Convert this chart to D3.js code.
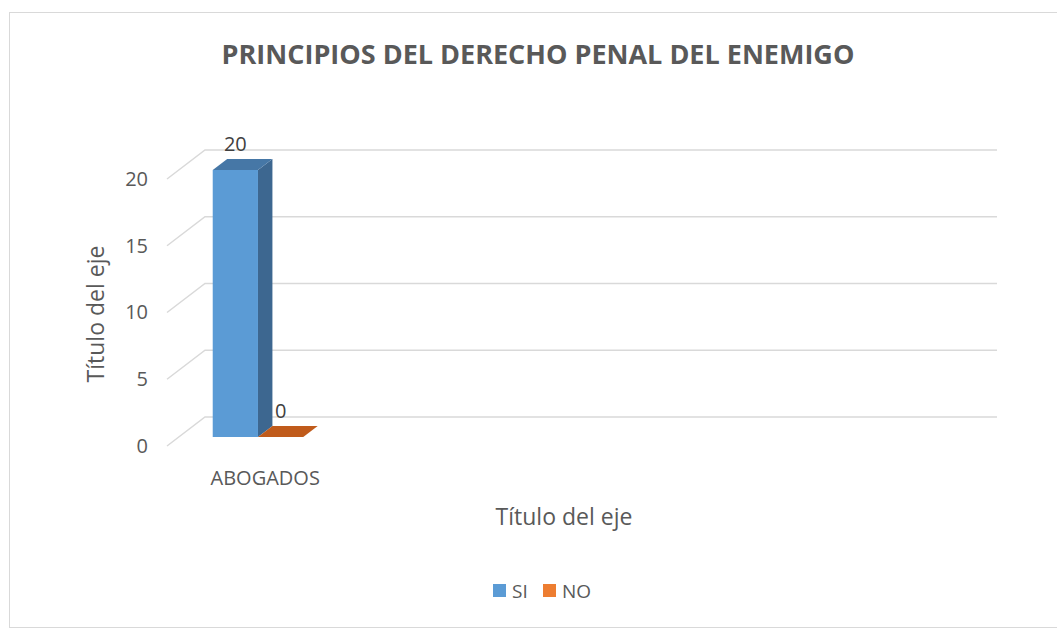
<!DOCTYPE html>
<html>
<head>
<meta charset="utf-8">
<script src="https://cdn.jsdelivr.net/npm/d3@7"></script>
<style>
  body { margin: 0; background: #fff; }
  text { font-family: "Open Sans", "Noto Sans", sans-serif; fill: #595959; }
</style>
</head>
<body>
<div id="wrapper"></div>
<script>
// ---------- DATA ----------
const categories = ["ABOGADOS", "", "", "", ""];
const seriesNames = ["SI", "NO"];
const siValues = [20];
const noValues = [0];
const yTicks = [0, 5, 10, 15, 20];
const chartTitle = "PRINCIPIOS DEL DERECHO PENAL DEL ENEMIGO";
const axisTitle = "Título del eje";

function drawChart() {
  const width = 1057;
  const height = 629;

  // 3d look: how far the back wall sits from the front plane
  const depthX = 38;
  const depthY = -29;
  const barDepth = [0.31, 0.69];

  const colors = {
    SI: { front: "#5b9bd5", side: "#3d6790", top: "#4677a6", legend: "#5b9bd5" },
    NO: { front: "#ed7d31", side: "#b55a1c", top: "#c05b1b", legend: "#ed7d31" },
  };

  const svg = d3.select("#wrapper").append("svg")
    .attr("width", width)
    .attr("height", height);

  // chart frame
  svg.append("rect")
    .attr("x", 9.5).attr("y", 12.5)
    .attr("width", 1100).attr("height", 615)
    .attr("fill", "none")
    .attr("stroke", "#d9d9d9");

  const xScale = d3.scaleBand()
    .domain(d3.range(categories.length))
    .range([167, 959]);

  const innerScale = d3.scaleBand()
    .domain(seriesNames)
    .range([0, xScale.bandwidth()])
    .paddingInner(0)
    .paddingOuter(0.75);

  const yScale = d3.scaleLinear()
    .domain([0, 20])
    .range([446, 179]);

  // project a front plane point into depth
  const P = (x, v, d) => [x + d * depthX, yScale(v) + d * depthY];

  // ---------- GRID ----------
  const grid = svg.append("g");
  yTicks.forEach((t) => {
    const a = P(167, t, 0), b = P(167, t, 1), c = P(959, t, 1);
    grid.append("polyline")
      .attr("points", [a, b, c].map((p) => p.join(",")).join(" "))
      .attr("fill", "none")
      .attr("stroke", "#d9d9d9")
      .attr("stroke-width", 1.5);
  });

  // y axis labels
  const yAxis = svg.append("g")
    .attr("transform", "translate(148,0)")
    .call(d3.axisLeft(yScale).tickValues(yTicks).tickSize(0).tickPadding(0));
  yAxis.select(".domain").remove();
  yAxis.selectAll("text")
    .attr("fill", "#595959")
    .style("font-size", "20px")
    .style("font-family", "'Open Sans', sans-serif");

  // ---------- BARS ----------
  const barData = [];
  siValues.forEach((v, i) => barData.push({ cat: i, series: "SI", value: v }));
  noValues.forEach((v, i) => barData.push({ cat: i, series: "NO", value: v }));

  const bars = svg.append("g");
  barData.forEach((d) => {
    const x0 = xScale(d.cat) + innerScale(d.series);
    const x1 = x0 + innerScale.bandwidth();
    const [f, b] = barDepth;
    const col = colors[d.series];
    const pts = (arr) => arr.map((p) => p.join(",")).join(" ");
    const g = bars.append("g");
    // side face
    g.append("polygon")
      .attr("points", pts([P(x1, 0, f), P(x1, 0, b), P(x1, d.value, b), P(x1, d.value, f)]))
      .attr("fill", col.side);
    // front face
    if (d.value > 0) {
      g.append("polygon")
        .attr("points", pts([P(x0, 0, f), P(x1, 0, f), P(x1, d.value, f), P(x0, d.value, f)]))
        .attr("fill", col.front);
    }
    // top face
    g.append("polygon")
      .attr("points", pts([P(x0, d.value, f), P(x1, d.value, f), P(x1, d.value, b), P(x0, d.value, b)]))
      .attr("fill", col.top);

    // data label
    const lp = P((x0 + x1) / 2, d.value, f);
    g.append("text")
      .attr("x", lp[0])
      .attr("y", lp[1] - 19)
      .attr("text-anchor", "middle")
      .style("fill", "#404040")
      .style("font-size", "20px")
      .text(d.value);
  });

  // category labels
  svg.append("g").selectAll("text")
    .data(categories)
    .join("text")
    .attr("x", (d, i) => P(xScale(i) + xScale.bandwidth() / 2, 0, 0.5)[0])
    .attr("y", 485)
    .attr("text-anchor", "middle")
    .style("font-size", "20px")
    .text((d) => d);

  // ---------- TITLES ----------
  svg.append("text")
    .attr("x", 538).attr("y", 64)
    .attr("text-anchor", "middle")
    .style("font-size", "27px")
    .style("font-weight", "bold")
    .text(chartTitle);

  svg.append("text")
    .attr("x", 564).attr("y", 525)
    .attr("text-anchor", "middle")
    .style("font-size", "23px")
    .text(axisTitle);

  svg.append("text")
    .attr("transform", "translate(104,314) rotate(-90)")
    .attr("text-anchor", "middle")
    .style("font-size", "23px")
    .text(axisTitle);

  // ---------- LEGEND ----------
  const legend = svg.append("g").attr("transform", "translate(493,584)");
  const legendX = [0, 50];
  seriesNames.forEach((s, i) => {
    const item = legend.append("g").attr("transform", `translate(${legendX[i]},0)`);
    item.append("rect")
      .attr("width", 13).attr("height", 13)
      .attr("fill", colors[s].legend);
    item.append("text")
      .attr("x", 19).attr("y", 14)
      .style("font-size", "19px")
      .text(s);
  });
}

drawChart();
</script>
</body>
</html>
